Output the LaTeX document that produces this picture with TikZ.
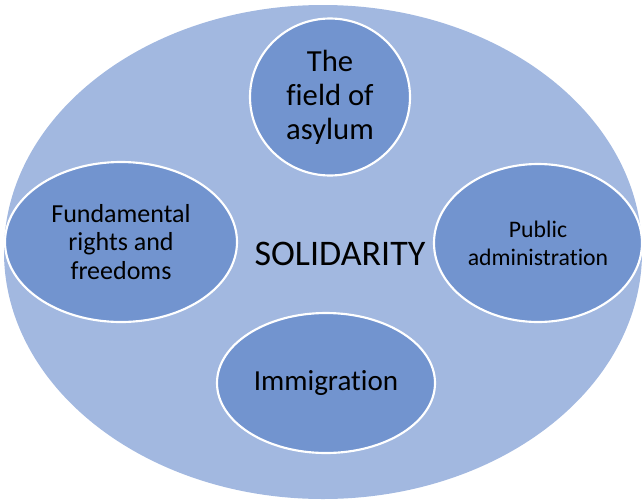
\documentclass[tikz,border=0pt]{standalone}
\usepackage{fontspec}
\setmainfont{Carlito}[Ligatures=NoCommon]
\usetikzlibrary{shapes.geometric}
\definecolor{outerblue}{HTML}{A2B8E0}
\definecolor{innerblue}{HTML}{7294CF}
\tikzset{
  outerell/.style={ellipse, fill=outerblue, draw=none, inner sep=0pt},
  innerell/.style={ellipse, fill=innerblue, draw=white, line width=1.6pt, inner sep=0pt, align=center, text=black},
  lbl/.style={inner sep=0pt, text=black}
}
\begin{document}
\begin{tikzpicture}[x=0.75pt,y=-0.75pt]
\useasboundingbox (0,0) rectangle (642,500);
\node[outerell, minimum width=478.5pt, minimum height=370.5pt] (outer) at (323,252) {};
\node[innerell, minimum width=120pt, minimum height=117.75pt,
      font=\fontsize{23}{25.5}\selectfont] (asylum) at (330,97) {The\\field of\\asylum};
\node[innerell, minimum width=174pt, minimum height=120pt,
      font=\fontsize{19.5}{21.4}\selectfont] (rights) at (121,242) {Fundamental\\rights and\\freedoms};
\node[innerell, minimum width=156pt, minimum height=118.5pt,
      font=\fontsize{17.8}{21}\selectfont] (admin) at (538,243) {Public\\administration};
\node[innerell, minimum width=163.5pt, minimum height=105pt,
      font=\fontsize{21.8}{26}\selectfont] (immig) at (326,383) {Immigration};
\node[lbl, font=\fontsize{27}{32}\selectfont] (sol) at (340,254) {SOLIDARITY};
\end{tikzpicture}
\end{document}
